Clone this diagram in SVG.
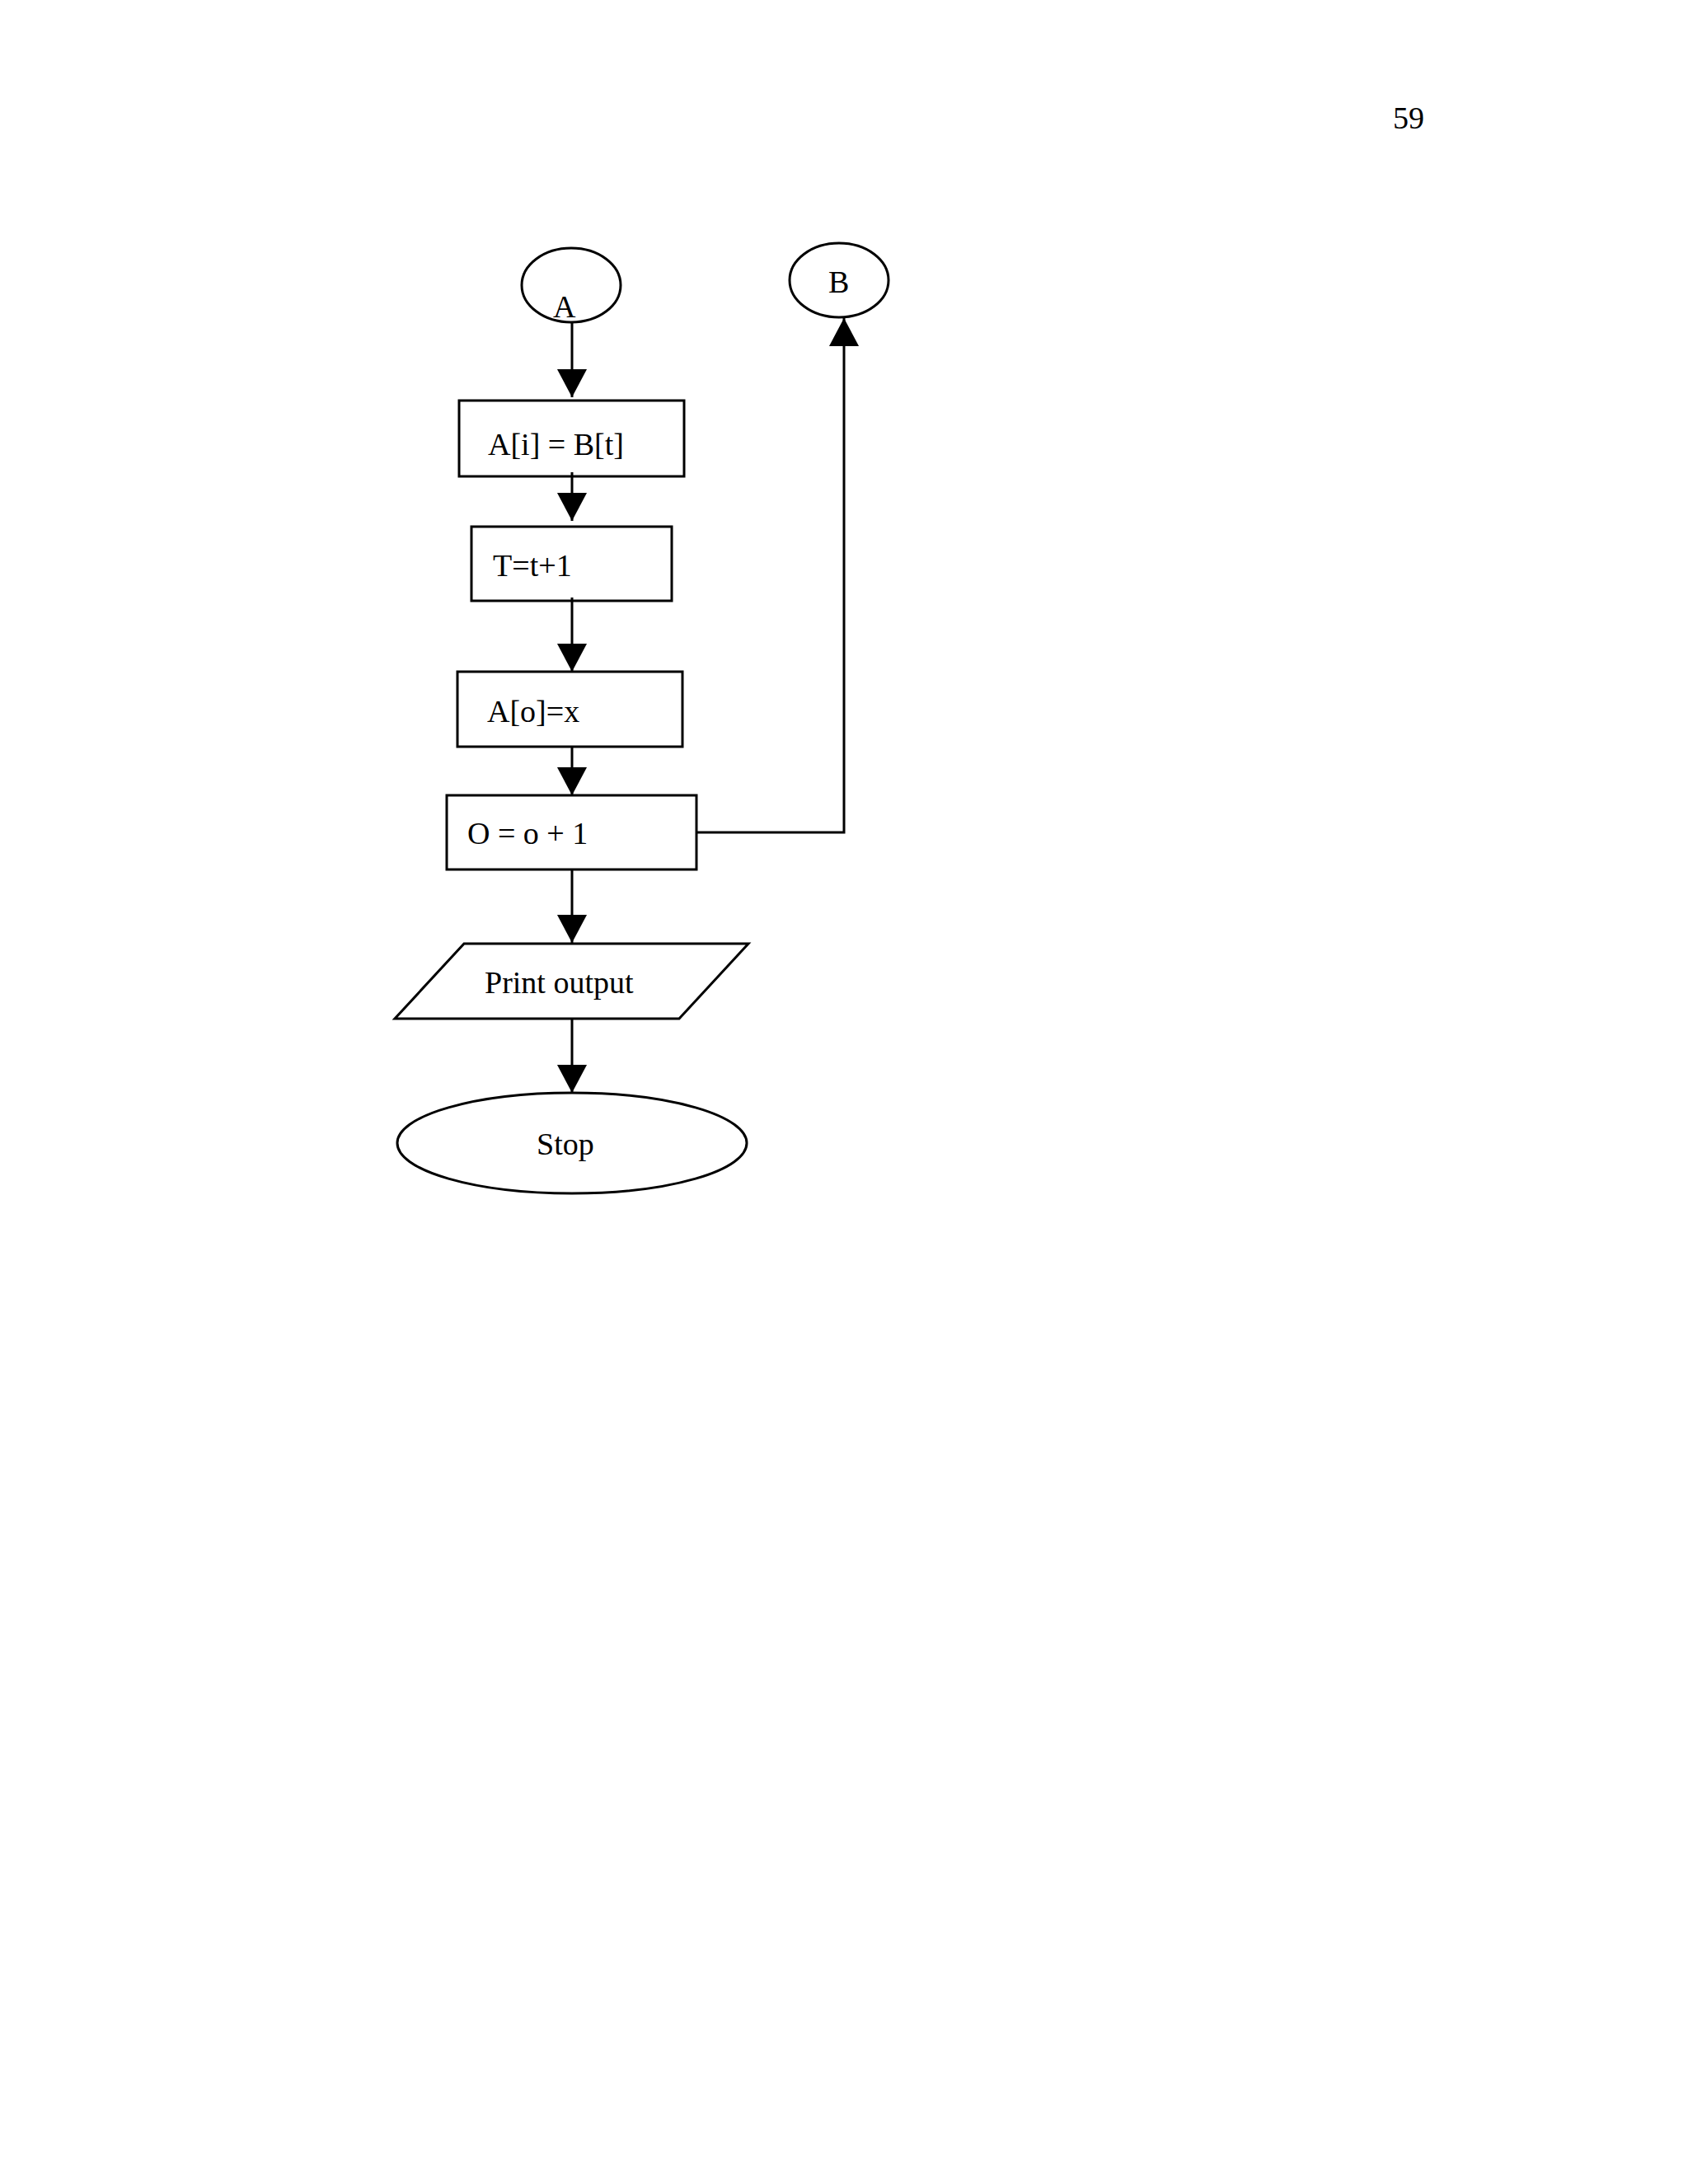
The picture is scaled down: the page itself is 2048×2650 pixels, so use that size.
<svg xmlns="http://www.w3.org/2000/svg" width="2048" height="2650" viewBox="0 0 2048 2650">
<style>
.s{fill:none;stroke:#000;stroke-width:3}
text{font-family:"Liberation Serif",serif;font-size:38px;fill:#000}
.c{stroke:#000;stroke-width:3;fill:none}
</style>
<defs>
<marker id="ah" markerWidth="36" markerHeight="36" viewBox="0 0 36 36" refX="34" refY="18" orient="auto" markerUnits="userSpaceOnUse">
<path d="M0,0 L34,18 L0,36 Z" fill="#000"/>
</marker>
</defs>
<rect width="2048" height="2650" fill="#fff"/>
<text x="1690" y="156">59</text>
<g id="A"><ellipse class="s" cx="693" cy="346" rx="60" ry="45"/><text x="671" y="385">A</text></g>
<g id="B"><ellipse class="s" cx="1018" cy="340" rx="60" ry="45"/><text x="1005" y="355">B</text></g>
<g id="n1"><rect class="s" x="557" y="486" width="273" height="92"/><text x="592" y="552">A[i] = B[t]</text></g>
<g id="n2"><rect class="s" x="572" y="639" width="243" height="90"/><text x="598" y="699">T=t+1</text></g>
<g id="n3"><rect class="s" x="555" y="815" width="273" height="91"/><text x="591" y="876">A[o]=x</text></g>
<g id="n4"><rect class="s" x="542" y="965" width="303" height="90"/><text x="567" y="1024">O = o + 1</text></g>
<g id="n5"><polygon class="s" points="563,1145 908,1145 824,1236 479,1236"/><text x="588" y="1205">Print output</text></g>
<g id="stop"><ellipse class="s" cx="694" cy="1387" rx="212" ry="61"/><text x="651" y="1401">Stop</text></g>
<g id="connectors">
<line class="c" x1="694" y1="391" x2="694" y2="482" marker-end="url(#ah)"/>
<line class="c" x1="694" y1="573" x2="694" y2="632" marker-end="url(#ah)"/>
<line class="c" x1="694" y1="725" x2="694" y2="815" marker-end="url(#ah)"/>
<line class="c" x1="694" y1="906" x2="694" y2="965" marker-end="url(#ah)"/>
<line class="c" x1="694" y1="1055" x2="694" y2="1144" marker-end="url(#ah)"/>
<line class="c" x1="694" y1="1236" x2="694" y2="1326" marker-end="url(#ah)"/>
<polyline class="c" points="845,1010 1024,1010 1024,386" marker-end="url(#ah)"/>
</g>
</svg>
